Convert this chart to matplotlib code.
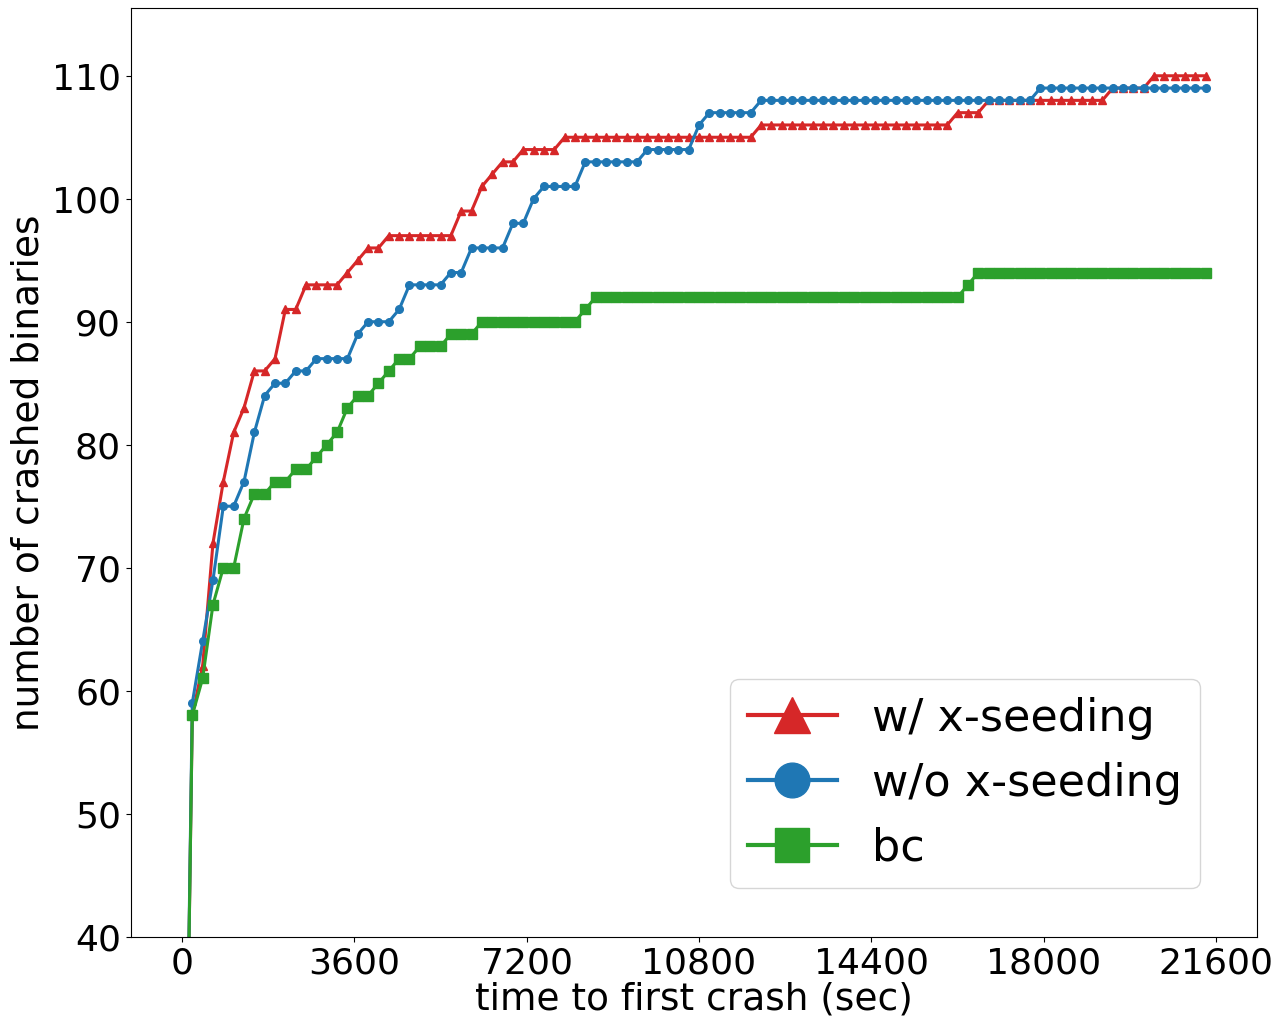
#!/usr/bin/env python3
"""Time to first crash: x-seeding vs no x-seeding vs bc."""

import matplotlib

matplotlib.use("Agg")
import matplotlib.pyplot as plt
import numpy as np

# sampling grid: one point every 216 s
TIME_STEP = 216
N_POINTS = 100

W_SEEDING = (
    [0, 58, 62, 72, 77, 81, 83, 86, 86, 87, 91, 91]
    + [93] * 4 + [94, 95, 96, 96]
    + [97] * 7 + [99, 99, 101, 102, 103, 103]
    + [104] * 4 + [105] * 19 + [106] * 19 + [107] * 3
    + [108] * 12 + [109] * 4 + [110] * 6
)
WO_SEEDING = (
    [0, 59, 64, 69, 75, 75, 77, 81, 84, 85, 85, 86, 86]
    + [87] * 4 + [89] + [90] * 3 + [91] + [93] * 4 + [94, 94]
    + [96] * 4 + [98, 98, 100] + [101] * 4 + [103] * 6
    + [104] * 5 + [106] + [107] * 5 + [108] * 27 + [109] * 17
)
BC = (
    [0, 58, 61, 67, 70, 70, 74, 76, 76, 77, 77, 78, 78, 79, 80, 81, 83,
     84, 84, 85, 86, 87, 87]
    + [88] * 3 + [89] * 3 + [90] * 10 + [91] + [92] * 36 + [93] + [94] * 23
)

X_TICKS = [0, 3600, 7200, 10800, 14400, 18000, 21600]
Y_TICKS = [40, 50, 60, 70, 80, 90, 100, 110]


def main() -> None:
    times = np.arange(N_POINTS) * TIME_STEP

    fig = plt.figure(figsize=(12.82, 10.17), dpi=100)
    ax = fig.add_axes([0.102, 0.079, 0.8785, 0.913])

    ax.plot(times, W_SEEDING, color="tab:red", marker="^", markersize=6,
            linewidth=2.2, label="w/ x-seeding")
    ax.plot(times, WO_SEEDING, color="tab:blue", marker="o", markersize=5.5,
            linewidth=2.2, label="w/o x-seeding")
    ax.plot(times, BC, color="tab:green", marker="s", markersize=7,
            linewidth=2.2, label="bc")

    ax.set_ylim(40, 115.5)
    ax.set_xticks(X_TICKS)
    ax.set_yticks(Y_TICKS)
    ax.tick_params(labelsize=26)
    ax.set_xlabel("time to first crash (sec)", fontsize=27, labelpad=1)
    ax.set_ylabel("number of crashed binaries", fontsize=27)

    leg = ax.legend(loc="lower right", bbox_to_anchor=(0.9494, 0.0527),
                    borderaxespad=0, fontsize=32, labelspacing=0.5)
    for handle, size in zip(leg.legend_handles, [26, 25, 25]):
        handle.set_linewidth(3)
        handle.set_markersize(size)

    fig.savefig("out.png", dpi=100)


if __name__ == "__main__":
    main()
